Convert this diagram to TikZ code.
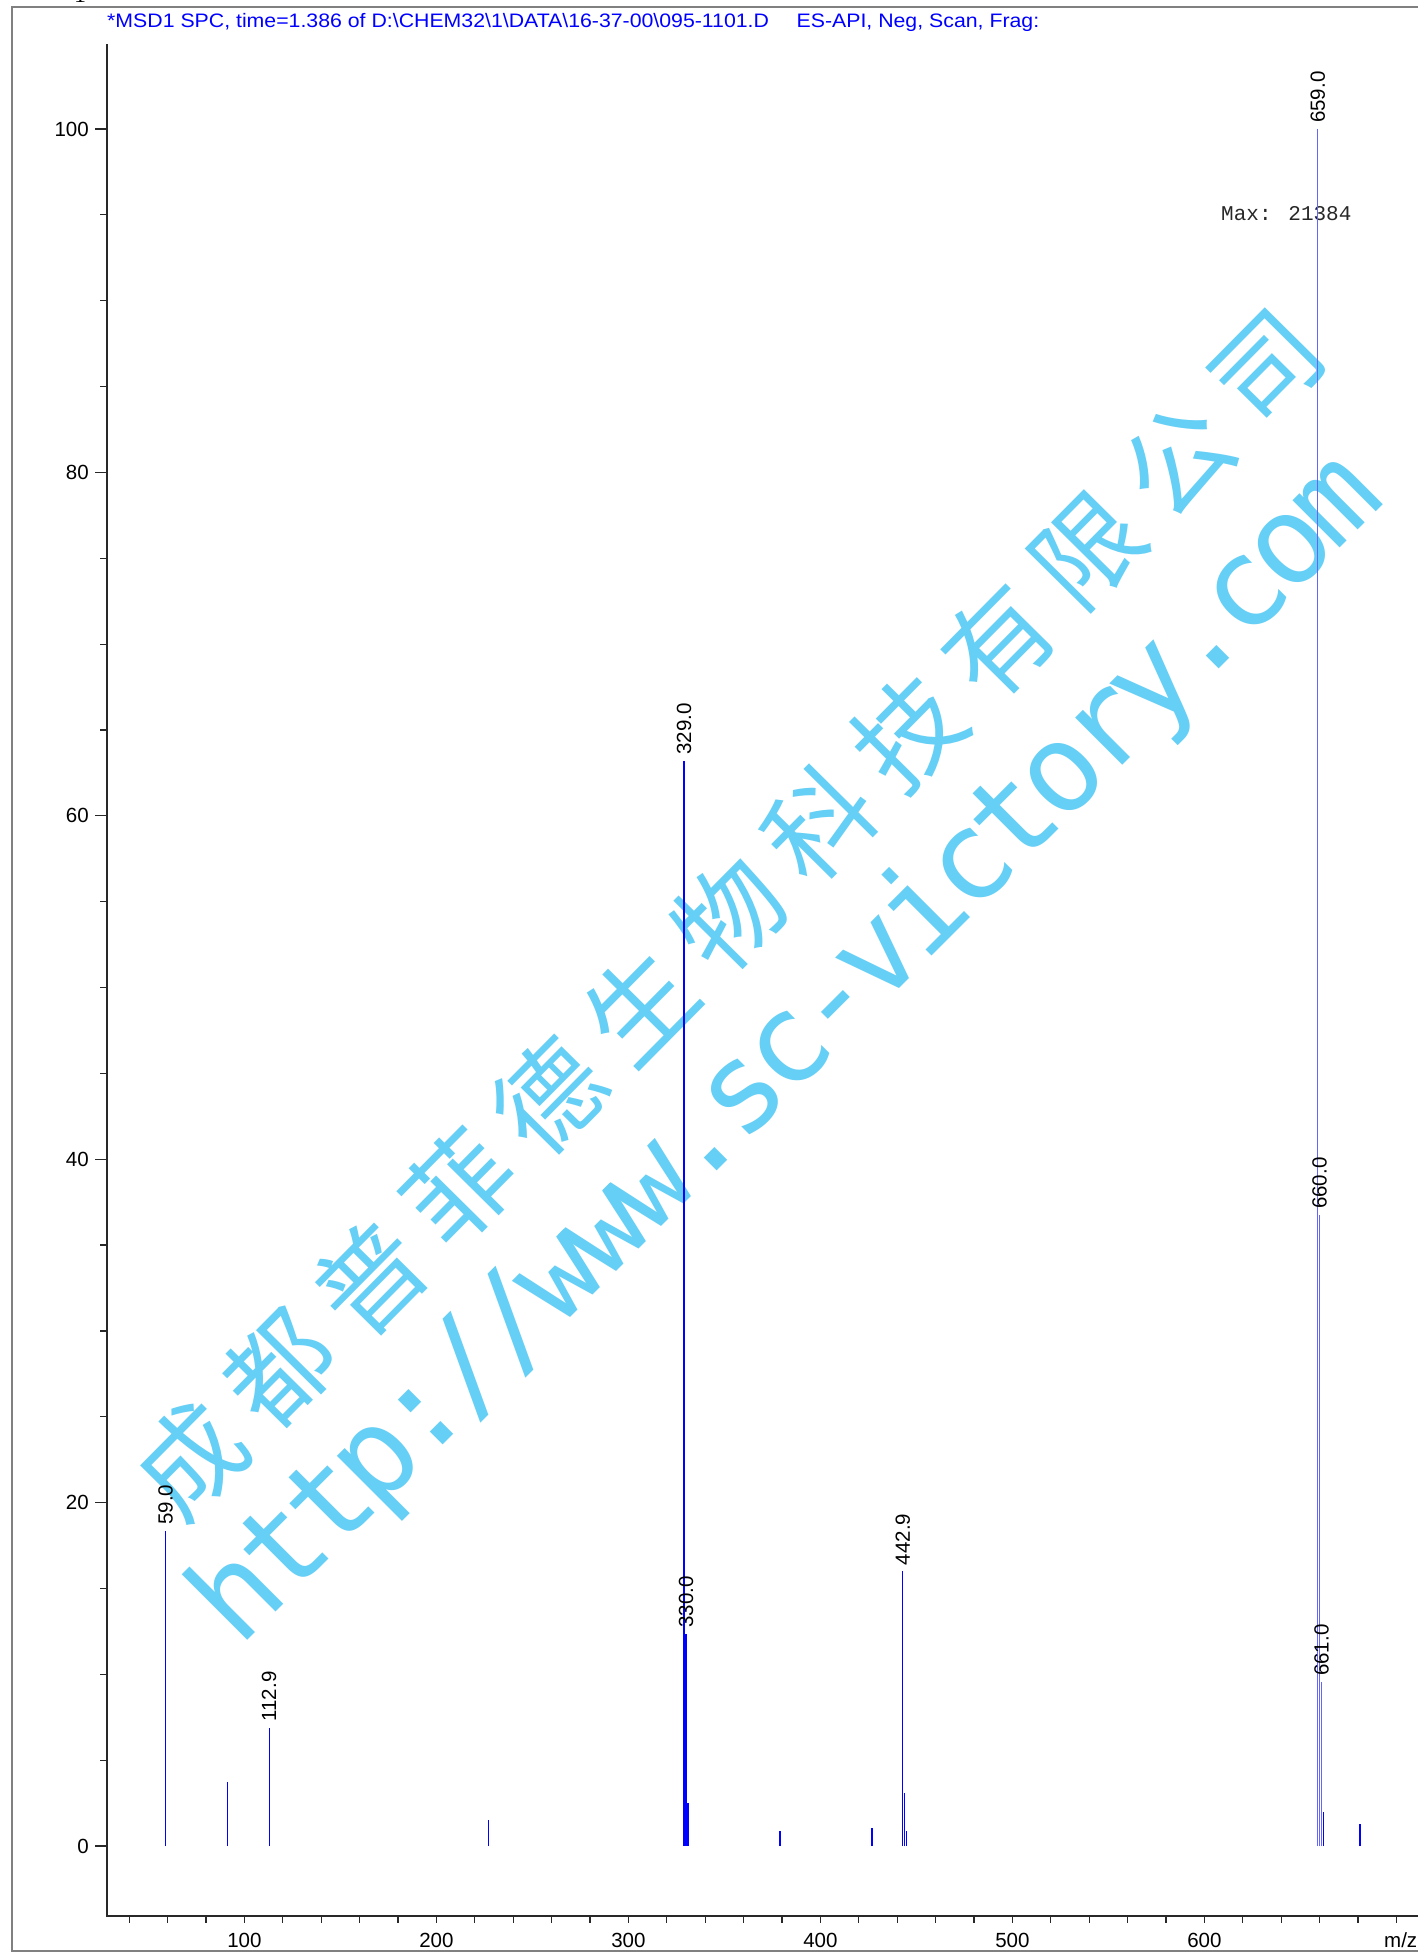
\documentclass[tikz,border=0pt]{standalone}
\usepackage{graphicx}
\usepackage{fontspec}
\setmainfont{Liberation Sans}
\newfontfamily\monofont{Liberation Mono}
\newfontfamily\wmmono[LetterSpace=-7.3]{DejaVu Sans Mono}
\newfontfamily\cjkfont{Noto Sans CJK SC}
\newfontfamily\serifone{Liberation Serif}
\definecolor{wm}{RGB}{102,207,245}
\definecolor{pk}{RGB}{0,0,255}
\definecolor{pklight}{RGB}{100,100,255}
\definecolor{axisc}{RGB}{40,40,40}
\definecolor{framec}{RGB}{128,128,128}
\tikzset{
  peak/.style={line width=1.2pt},
  axisline/.style={draw=axisc, line width=1.4pt},
  tickline/.style={draw=axisc, line width=1.2pt},
  numlbl/.style={font=\fontsize{20.5}{24}\selectfont, text=black, inner sep=0pt},
  pklbl/.style={numlbl, rotate=90, anchor=west},
  wmcjk/.style={font=\cjkfont\fontsize{106}{106}\selectfont, text=wm, inner sep=0pt, rotate=45.3, anchor=center},
  wmurl/.style={font=\wmmono\fontsize{122}{122}\selectfont, text=wm, inner sep=0pt, rotate=45, anchor=base},
}
\begin{document}
\begin{tikzpicture}[x=1pt,y=-1pt]
\useasboundingbox (0,0) rectangle (1418,1952);
\clip (0,0) rectangle (1418,1952);
\fill[white] (0,0) rectangle (1418,1952);
% frame
\draw[framec, line width=2pt] (1418,7) -- (12,7) -- (12,1951) -- (1418,1951);
% page number fragment
\node[font=\serifone\fontsize{24}{24}\selectfont, anchor=base, inner sep=0pt] (pg) at (80,2.7) {1};
% title
\node[anchor=base west, text=pk, inner sep=0pt] (title) at (107,27.3)
  {\resizebox{932pt}{\height}{\fontsize{19.5}{21}\selectfont *MSD1 SPC, time=1.386 of D:\textbackslash CHEM32\textbackslash 1\textbackslash DATA\textbackslash 16-37-00\textbackslash 095-1101.D\hspace{1.3em}ES-API, Neg, Scan, Frag:}};
% watermark
\foreach \c [count=\i from 0] in {成,都,普,菲,德,生,物,科,技,有,限,公,司}
  \node[wmcjk] (cj\i) at ({190+89.83*\i},{1460-90.92*\i}) {\c};
\node[wmurl] (url) at (813.6,1074.4) {http://www.sc-victory.com};
% axes
\draw[axisline] (107,44) -- (107,1916) -- (1418,1916);
% y ticks
\foreach \v in {5,10,...,100}
  \draw[tickline] (100,{1846-17.17*\v}) -- (107,{1846-17.17*\v});
\foreach \v [count=\k] in {0,20,...,100}{
  \draw[tickline] (95,{1846-17.17*\v}) -- (107,{1846-17.17*\v});
  \node[numlbl, anchor=east] (yl\k) at (89,{1846-17.17*\v}) {\v};
}
% x ticks
\foreach \m in {40,60,...,700}
  \draw[tickline] ({52.4+1.92*\m},1916) -- ({52.4+1.92*\m},1923);
\foreach \m [count=\k] in {100,200,...,600}
  \node[numlbl, anchor=center] (xl\k) at ({52.4+1.92*\m},1940.5) {\m};
\node[numlbl, anchor=west] (mz) at (1384,1940.5) {m/z};
% max
\node[anchor=west, font=\monofont\fontsize{21}{21}\selectfont, text=axisc, inner sep=0pt] (max) at (1221,214) {Max: 21384};
% peaks
\foreach \m/\h/\c in {59.0/18.35/pk, 91/3.75/pk, 112.9/6.9/pk, 227/1.5/pk, 329.0/63.2/pk, 330.0/12.35/pk, 331/2.5/pk, 379/0.9/pk, 426.9/1.05/pk, 442.9/16.0/pk, 444/3.1/pk, 445/0.87/pk, 659.0/100/pklight, 660.0/36.75/pklight, 661.0/9.55/pklight, 662/2.0/pk, 681/1.3/pk}
  \draw[peak, \c] ({52.4+1.92*\m},1846) -- ({52.4+1.92*\m},{1846-17.17*\h});
% peak labels
\foreach \m/\h [count=\k] in {59.0/18.35, 112.9/6.9, 329.0/63.2, 330.0/12.35, 442.9/16.0, 659.0/100, 660.0/36.75, 661.0/9.55}
  \node[pklbl] (pl\k) at ({52.4+1.92*\m},{1846-17.17*\h-6}) {\m};
\end{tikzpicture}
\end{document}
